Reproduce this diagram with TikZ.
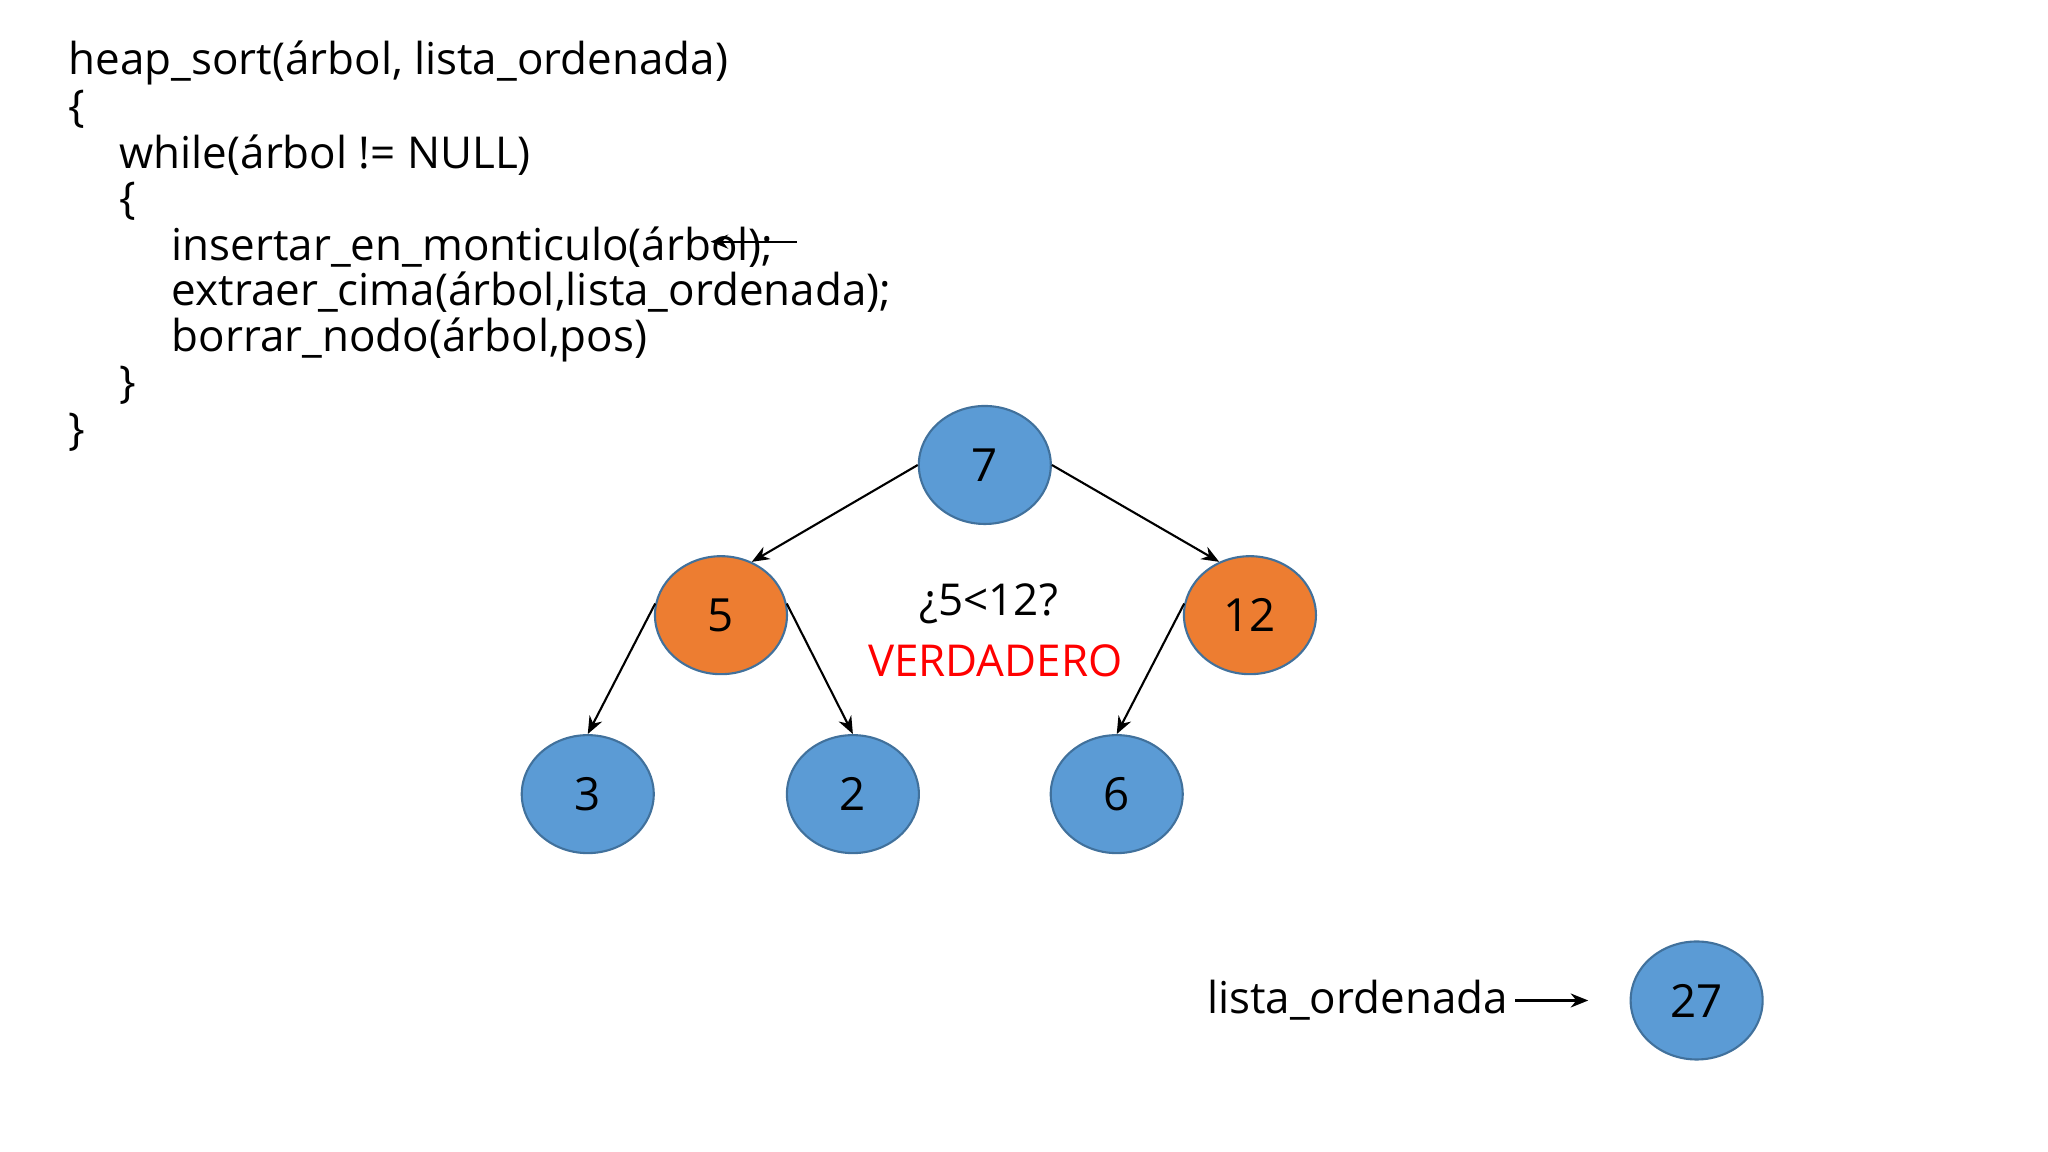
\documentclass[tikz,border=0pt]{standalone}
\usepackage{fontspec}
\setmainfont{Open Sans}
\usetikzlibrary{shapes.geometric,arrows.meta}
\definecolor{nblue}{HTML}{5B9BD5}
\definecolor{norange}{HTML}{ED7D31}
\definecolor{nborder}{HTML}{41719C}
\begin{document}
\begin{tikzpicture}[x=0.013061cm,y=-0.013061cm,
  hnode/.style={ellipse,draw=nborder,line width=0.6pt,minimum width=101\pgflinewidth,inner sep=0pt,font=\fontsize{13}{15}\selectfont},
  bnode/.style={hnode,fill=nblue,minimum width=1.32cm,minimum height=1.18cm},
  onode/.style={hnode,fill=norange,minimum width=1.32cm,minimum height=1.18cm},
  code/.style={anchor=west,font=\fontsize{12.5}{15}\selectfont,inner sep=0pt},
  arr/.style={-{Stealth[length=5pt,width=4pt]},line width=0.6pt}]
\useasboundingbox (0,0) rectangle (1568,882);
\node[code] (c1) at (52,48) {heap\_sort(árbol, lista\_ordenada)};
\node[code] (c2) at (52,84) {\{};
\node[code] (c3) at (91,119) {while(árbol != NULL)};
\node[code] (c4) at (91,154) {\{};
\node[code] (c5) at (131,189) {insertar\_en\_monticulo(árbol);};
\node[code] (c6) at (131,224) {extraer\_cima(árbol,lista\_ordenada);};
\node[code] (c7) at (131,260) {borrar\_nodo(árbol,pos)};
\node[code] (c8) at (91,295) {\}};
\node[code] (c9) at (52,331) {\}};
\coordinate (a1) at (610,185);
\coordinate (a2) at (544,185);
\draw[arr] (a1) -- (a2);
\node[bnode] (n7) at (754,356) {7};
\node[onode] (n5) at (552,471) {5};
\node[onode] (n12) at (957,471) {12};
\node[bnode] (n3) at (450,608) {3};
\node[bnode] (n2) at (653,608) {2};
\node[bnode] (n6) at (855,608) {6};
\node[bnode] (n27) at (1299,766) {27};
\draw[arr] (n7.west) -- (n5.60);
\draw[arr] (n7.east) -- (n12.120);
\draw[arr] (n5.170) -- (n3.north);
\draw[arr] (n5.10) -- (n2.north);
\draw[arr] (n12.170) -- (n6.north);
\node[font=\fontsize{12.5}{15}\selectfont] (q) at (757,462) {¿5<12?};
\node[font=\fontsize{12.5}{15}\selectfont,text=red] (v) at (762,506) {VERDADERO};
\node[code,anchor=east] (lo) at (1155,766) {lista\_ordenada};
\coordinate (b1) at (1216,766);
\draw[arr] (lo.east) ++(5,0) coordinate (b0) -- (b1);
\end{tikzpicture}
\end{document}
